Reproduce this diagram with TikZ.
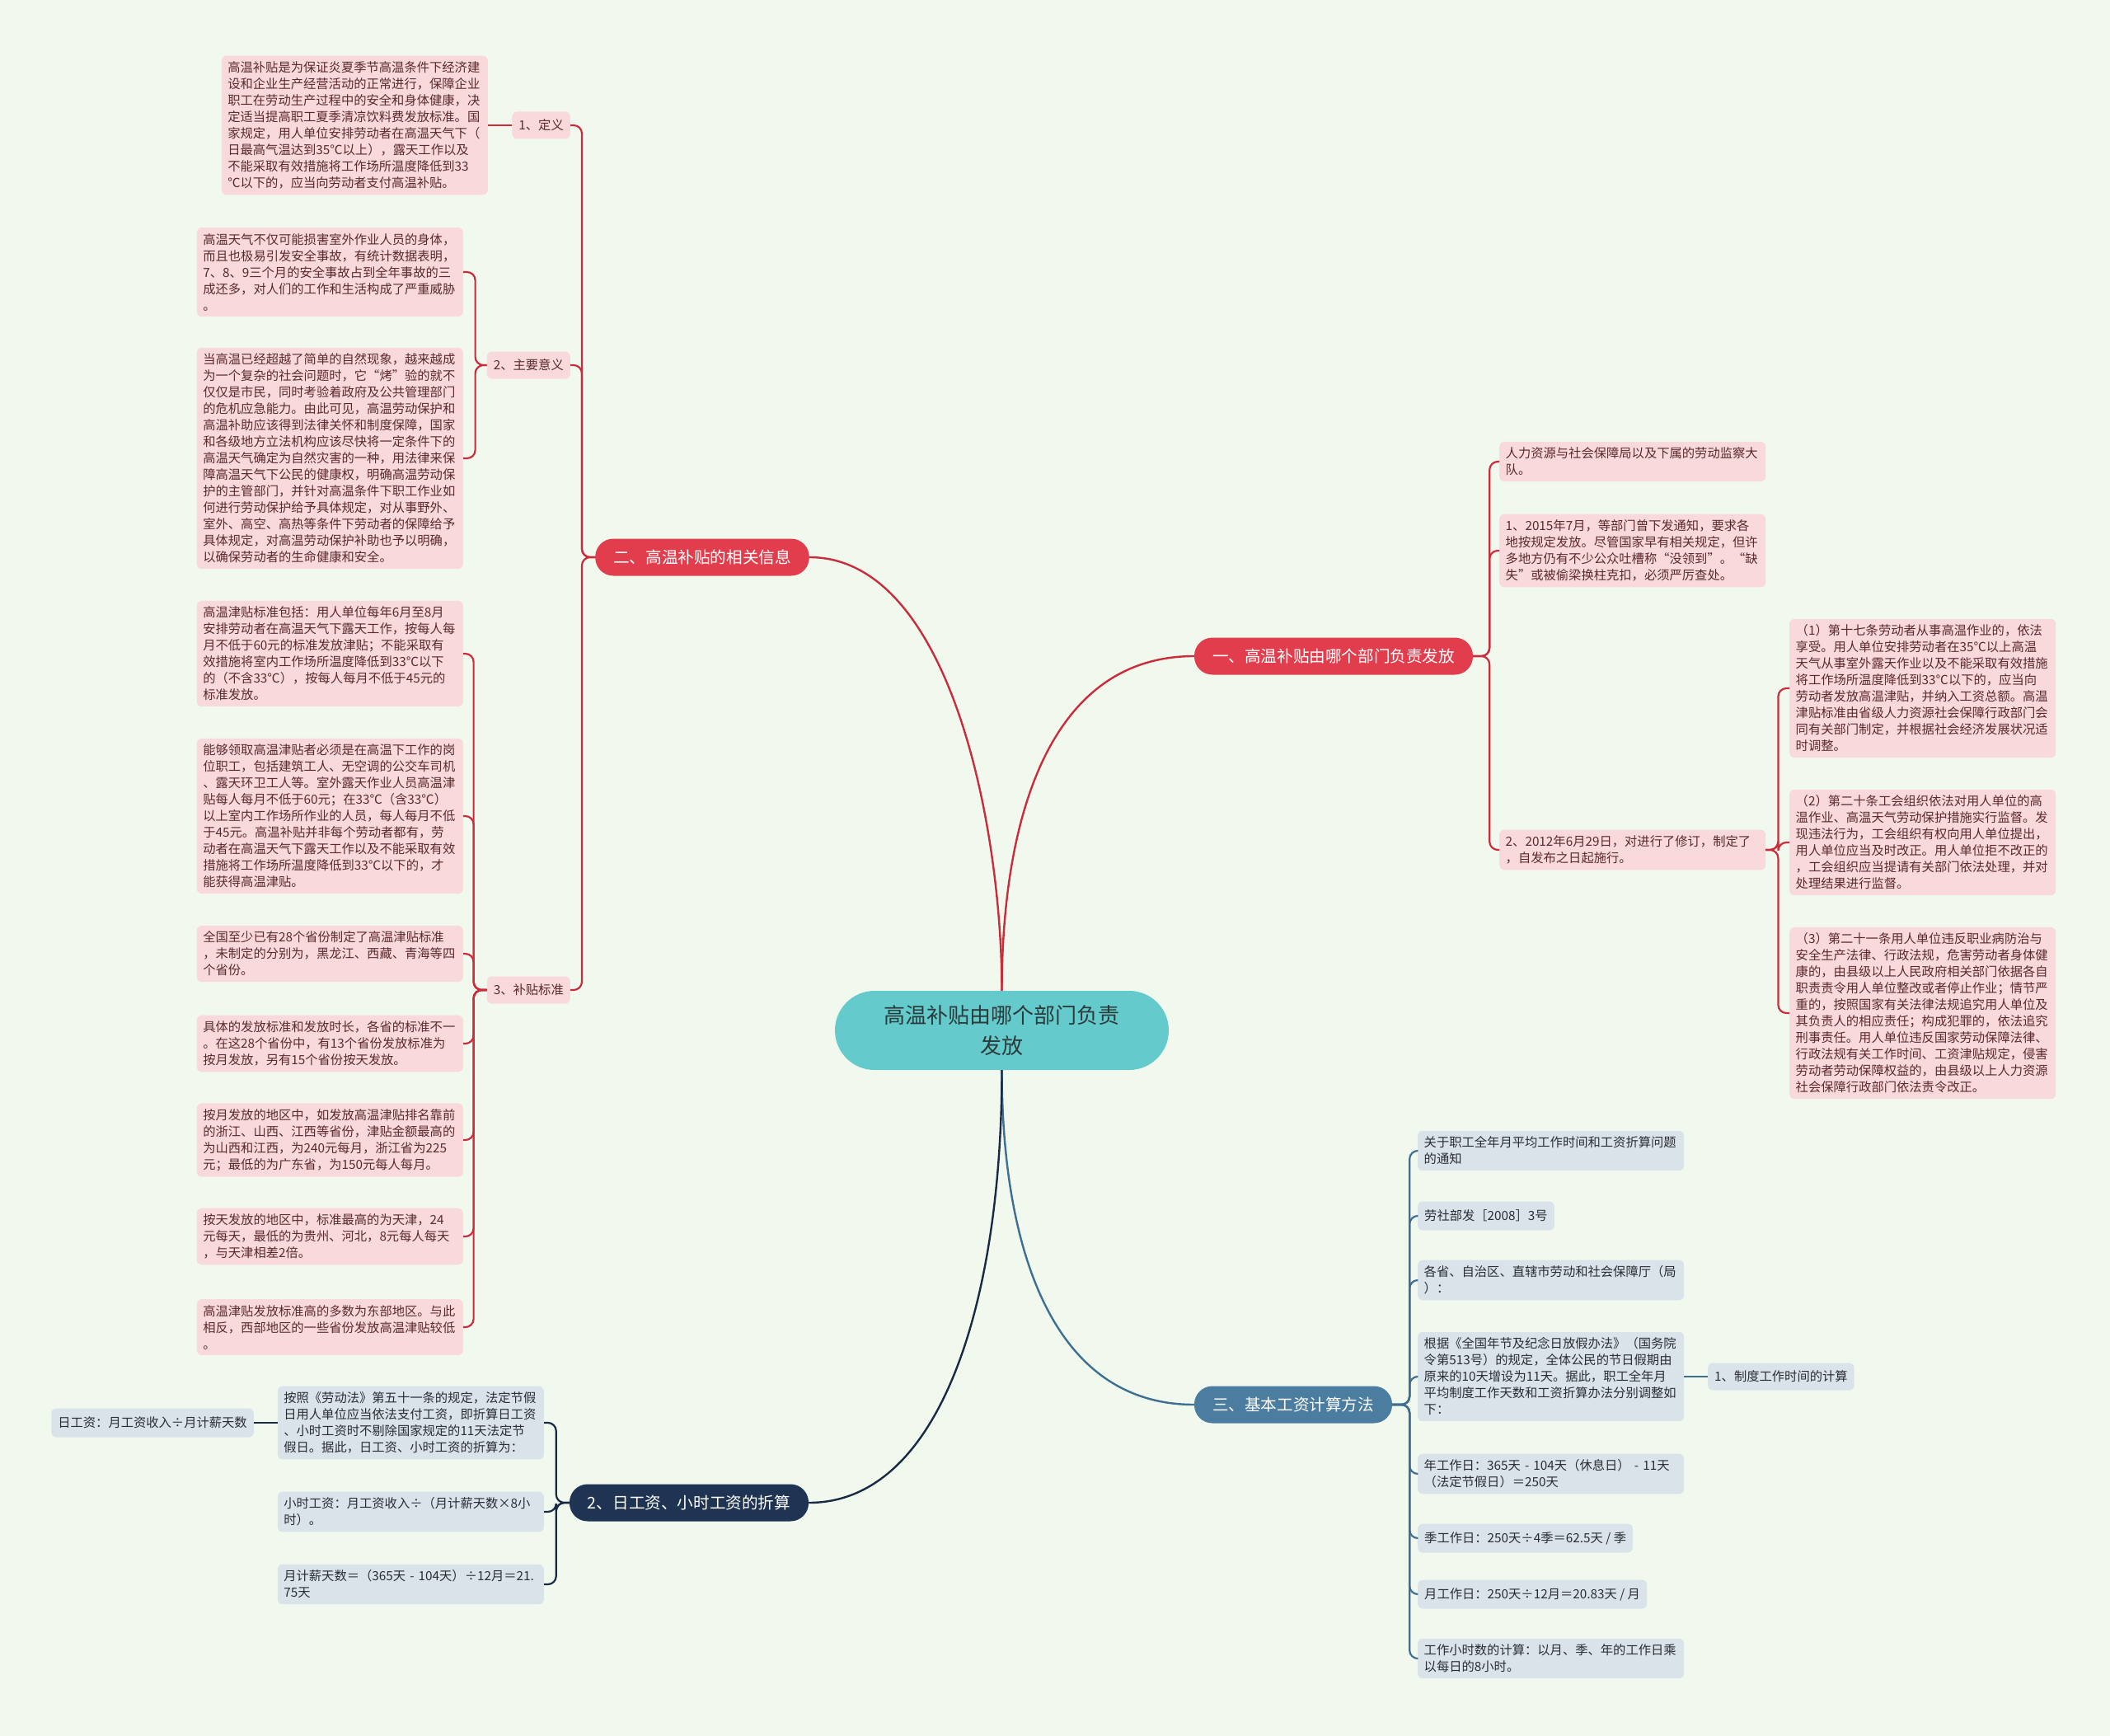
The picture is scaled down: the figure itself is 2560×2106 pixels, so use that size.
\documentclass[tikz,border=0pt]{standalone}
\usepackage{fontspec}
\setmainfont{Noto Sans CJK SC}
\usepackage{tikz}
\usetikzlibrary{positioning}
\definecolor{bgcol}{HTML}{F1F9EF}
\definecolor{rootfill}{HTML}{64CACB}
\definecolor{roottext}{HTML}{2B3A3B}
\definecolor{hotred}{HTML}{E23D4C}
\definecolor{hotwire}{HTML}{C92D3C}
\definecolor{steel}{HTML}{4B7DA0}
\definecolor{steelwire}{HTML}{3E6E90}
\definecolor{navy}{HTML}{1F3452}
\definecolor{navywire}{HTML}{1A2A44}
\definecolor{pinkfill}{HTML}{F9D9DC}
\definecolor{pinktext}{HTML}{5A2A2D}
\definecolor{grayfill}{HTML}{DAE2EA}
\definecolor{graytext}{HTML}{2A2E33}
\tikzset{
  root/.style={
    rectangle, rounded corners=48pt,
    minimum width=405pt, minimum height=96pt,
    align=center, fill=rootfill, text=roottext,
    font=\fontsize{26}{37}\selectfont,
  },
  branch/.style={
    rectangle, rounded corners=22pt,
    minimum height=45pt, inner xsep=22pt,
    text=white, font=\fontsize{19.6}{24}\selectfont,
  },
  tagpink/.style={
    rectangle, rounded corners=6pt,
    minimum height=33pt, inner xsep=8pt,
    fill=pinkfill, text=pinktext, font=\fontsize{15.3}{20}\selectfont,
  },
  taggray/.style={tagpink, fill=grayfill, text=graytext},
  pinkleaf/.style={
    rectangle, rounded corners=6pt,
    text width=308pt, align=left,
    inner xsep=7.5pt, inner ysep=7pt,
    fill=pinkfill, text=pinktext, font=\fontsize{15.3}{20}\selectfont,
  },
  grayleaf/.style={pinkleaf, fill=grayfill, text=graytext},
  grayone/.style={taggray, minimum height=35pt},
  redwire/.style={draw=hotwire, line width=2.4pt},
  redsub/.style={draw=hotwire, line width=2.2pt, rounded corners=10pt},
  bluewire/.style={draw=steelwire, line width=2.4pt},
  bluesub/.style={draw=steelwire, line width=2.2pt, rounded corners=10pt},
  navyline/.style={draw=navywire, line width=2.4pt},
  navysub/.style={draw=navywire, line width=2.2pt, rounded corners=10pt},
}

\begin{document}
\begin{tikzpicture}[x=1pt, y=-1pt]

  \fill[bgcol] (0,0) rectangle (2560,2106);
  \useasboundingbox (0,0) rectangle (2560,2106);

  % Root
  \node[root] (root) at (1215.5,1250) {高温补贴由哪个部门负责\\发放};

  % Main branches
  \node[branch, fill=hotred] (er) at (852,676) {二、高温补贴的相关信息};
  \node[branch, fill=hotred] (yi) at (1618,796) {一、高温补贴由哪个部门负责发放};
  \node[branch, fill=steel] (san) at (1569,1704) {三、基本工资计算方法};
  \node[branch, fill=navy] (rizi) at (836,1823) {2、日工资、小时工资的折算};

  % Related info: tags
  \node[tagpink, anchor=east] (def) at (692,152) {1、定义};
  \node[tagpink, anchor=east] (mean) at (692,443) {2、主要意义};
  \node[tagpink, anchor=east] (std) at (692,1201) {3、补贴标准};

  % Related info: leaves
  \node[pinkleaf, anchor=east] (dl) at (592,152) {高温补贴是为保证炎夏季节高温条件下经济建\\设和企业生产经营活动的正常进行，保障企业\\职工在劳动生产过程中的安全和身体健康，决\\定适当提高职工夏季清凉饮料费发放标准。国\\家规定，用人单位安排劳动者在高温天气下（\\日最高气温达到35℃以上），露天工作以及\\不能采取有效措施将工作场所温度降低到33\\℃以下的，应当向劳动者支付高温补贴。};
  \node[pinkleaf, anchor=east] (ma) at (562,330) {高温天气不仅可能损害室外作业人员的身体，\\而且也极易引发安全事故，有统计数据表明，\\7、8、9三个月的安全事故占到全年事故的三\\成还多，对人们的工作和生活构成了严重威胁\\。};
  \node[pinkleaf, anchor=east] (mb) at (562,556) {当高温已经超越了简单的自然现象，越来越成\\为一个复杂的社会问题时，它“烤”验的就不\\仅仅是市民，同时考验着政府及公共管理部门\\的危机应急能力。由此可见，高温劳动保护和\\高温补助应该得到法律关怀和制度保障，国家\\和各级地方立法机构应该尽快将一定条件下的\\高温天气确定为自然灾害的一种，用法律来保\\障高温天气下公民的健康权，明确高温劳动保\\护的主管部门，并针对高温条件下职工作业如\\何进行劳动保护给予具体规定，对从事野外、\\室外、高空、高热等条件下劳动者的保障给予\\具体规定，对高温劳动保护补助也予以明确，\\以确保劳动者的生命健康和安全。};
  \node[pinkleaf, anchor=east] (s1) at (562,793) {高温津贴标准包括：用人单位每年6月至8月\\安排劳动者在高温天气下露天工作，按每人每\\月不低于60元的标准发放津贴；不能采取有\\效措施将室内工作场所温度降低到33℃以下\\的（不含33℃），按每人每月不低于45元的\\标准发放。};
  \node[pinkleaf, anchor=east] (s2) at (562,990) {能够领取高温津贴者必须是在高温下工作的岗\\位职工，包括建筑工人、无空调的公交车司机\\、露天环卫工人等。室外露天作业人员高温津\\贴每人每月不低于60元；在33℃（含33℃）\\以上室内工作场所作业的人员，每人每月不低\\于45元。高温补贴并非每个劳动者都有，劳\\动者在高温天气下露天工作以及不能采取有效\\措施将工作场所温度降低到33℃以下的，才\\能获得高温津贴。};
  \node[pinkleaf, anchor=east] (s3) at (562,1157) {全国至少已有28个省份制定了高温津贴标准\\，未制定的分别为，黑龙江、西藏、青海等四\\个省份。};
  \node[pinkleaf, anchor=east] (s4) at (562,1266) {具体的发放标准和发放时长，各省的标准不一\\。在这28个省份中，有13个省份发放标准为\\按月发放，另有15个省份按天发放。};
  \node[pinkleaf, anchor=east] (s5) at (562,1383) {按月发放的地区中，如发放高温津贴排名靠前\\的浙江、山西、江西等省份，津贴金额最高的\\为山西和江西，为240元每月，浙江省为225\\元；最低的为广东省，为150元每人每月。};
  \node[pinkleaf, anchor=east] (s6) at (562,1500) {按天发放的地区中，标准最高的为天津，24\\元每天，最低的为贵州、河北，8元每人每天\\，与天津相差2倍。};
  \node[pinkleaf, anchor=east] (s7) at (562,1610) {高温津贴发放标准高的多数为东部地区。与此\\相反，西部地区的一些省份发放高温津贴较低\\。};

  % Department: leaves
  \node[pinkleaf, anchor=west] (r1) at (1819,560) {人力资源与社会保障局以及下属的劳动监察大\\队。};
  \node[pinkleaf, anchor=west] (r2) at (1819,668) {1、2015年7月，等部门曾下发通知，要求各\\地按规定发放。尽管国家早有相关规定，但许\\多地方仍有不少公众吐槽称“没领到”。“缺\\失”或被偷梁换柱克扣，必须严厉查处。};
  \node[pinkleaf, anchor=west] (r3) at (1819,1031) {2、2012年6月29日，对进行了修订，制定了\\，自发布之日起施行。};
  \node[pinkleaf, anchor=west] (p1) at (2171,835) {（1）第十七条劳动者从事高温作业的，依法\\享受。用人单位安排劳动者在35℃以上高温\\天气从事室外露天作业以及不能采取有效措施\\将工作场所温度降低到33℃以下的，应当向\\劳动者发放高温津贴，并纳入工资总额。高温\\津贴标准由省级人力资源社会保障行政部门会\\同有关部门制定，并根据社会经济发展状况适\\时调整。};
  \node[pinkleaf, anchor=west] (p2) at (2171,1022) {（2）第二十条工会组织依法对用人单位的高\\温作业、高温天气劳动保护措施实行监督。发\\现违法行为，工会组织有权向用人单位提出，\\用人单位应当及时改正。用人单位拒不改正的\\，工会组织应当提请有关部门依法处理，并对\\处理结果进行监督。};
  \node[pinkleaf, anchor=west] (p3) at (2171,1229) {（3）第二十一条用人单位违反职业病防治与\\安全生产法律、行政法规，危害劳动者身体健\\康的，由县级以上人民政府相关部门依据各自\\职责责令用人单位整改或者停止作业；情节严\\重的，按照国家有关法律法规追究用人单位及\\其负责人的相应责任；构成犯罪的，依法追究\\刑事责任。用人单位违反国家劳动保障法律、\\行政法规有关工作时间、工资津贴规定，侵害\\劳动者劳动保障权益的，由县级以上人力资源\\社会保障行政部门依法责令改正。};

  % Basic wage: leaves
  \node[grayleaf, anchor=west] (g1) at (1720,1396) {关于职工全年月平均工作时间和工资折算问题\\的通知};
  \node[grayone, anchor=west] (g2) at (1720,1475) {劳社部发［2008］3号};
  \node[grayleaf, anchor=west] (g3) at (1720,1553) {各省、自治区、直辖市劳动和社会保障厅（局\\）：};
  \node[grayleaf, anchor=west] (g4) at (1720,1670) {根据《全国年节及纪念日放假办法》（国务院\\令第513号）的规定，全体公民的节日假期由\\原来的10天增设为11天。据此，职工全年月\\平均制度工作天数和工资折算办法分别调整如\\下：};
  \node[taggray, anchor=west] (g4c) at (2072,1670) {1、制度工作时间的计算};
  \node[grayleaf, anchor=west] (g5) at (1720,1788) {年工作日：365天~-~104天（休息日）~-~11天\\（法定节假日）＝250天};
  \node[grayone, anchor=west] (g6) at (1720,1866) {季工作日：250天÷4季＝62.5天~/~季};
  \node[grayone, anchor=west] (g7) at (1720,1934) {月工作日：250天÷12月＝20.83天~/~月};
  \node[grayleaf, anchor=west] (g8) at (1720,2012) {工作小时数的计算：以月、季、年的工作日乘\\以每日的8小时。};

  % Daily wage: leaves
  \node[grayleaf, anchor=east] (m1) at (660,1726) {按照《劳动法》第五十一条的规定，法定节假\\日用人单位应当依法支付工资，即折算日工资\\、小时工资时不剔除国家规定的11天法定节\\假日。据此，日工资、小时工资的折算为：};
  \node[grayleaf, anchor=east] (m2) at (660,1834) {小时工资：月工资收入÷（月计薪天数×8小\\时）。};
  \node[grayleaf, anchor=east] (m3) at (660,1922) {月计薪天数＝（365天~-~104天）÷12月＝21.\\75天};
  \node[grayone, anchor=east] (dw) at (308,1726) {日工资：月工资收入÷月计薪天数};

  % Main curves
  \draw[redwire] (root.north) .. controls +(0,-200) and +(170,0) .. (er.east);
  \draw[redwire] (root.north) .. controls +(0,-200) and +(-180,0) .. (yi.west);
  \draw[bluewire] (root.south) .. controls +(0,200) and +(-180,0) .. (san.west);
  \draw[navyline] (root.south) .. controls +(0,280) and +(160,0) .. (rizi.east);

  % Related info connectors
  \foreach \t in {def, mean, std}
    \draw[redsub] (er.west) -- ++(-16,0) |- (\t.east);
  \draw[redsub] (def.west) -- (dl.east);
  \foreach \t in {ma, mb}
    \draw[redsub] (mean.west) -- ++(-14,0) |- (\t.east);
  \foreach \t in {s1, s2, s3, s4, s5, s6, s7}
    \draw[redsub] (std.west) -- ++(-16,0) |- (\t.east);

  % Department connectors
  \foreach \t in {r1, r2, r3}
    \draw[redsub] (yi.east) -- ++(20,0) |- (\t.west);
  \foreach \t in {p1, p2, p3}
    \draw[redsub] (r3.east) -- ++(15,0) |- (\t.west);

  % Basic wage connectors
  \foreach \t in {g1, g2, g3, g4, g5, g6, g7, g8}
    \draw[bluesub] (san.east) -- ++(21,0) |- (\t.west);
  \draw[bluesub] (g4.east) -- (g4c.west);

  % Daily wage connectors
  \foreach \t in {m1, m2, m3}
    \draw[navysub] (rizi.west) -- ++(-16,0) |- (\t.east);
  \draw[navysub] (m1.west) -- (dw.east);

\end{tikzpicture}
\end{document}
